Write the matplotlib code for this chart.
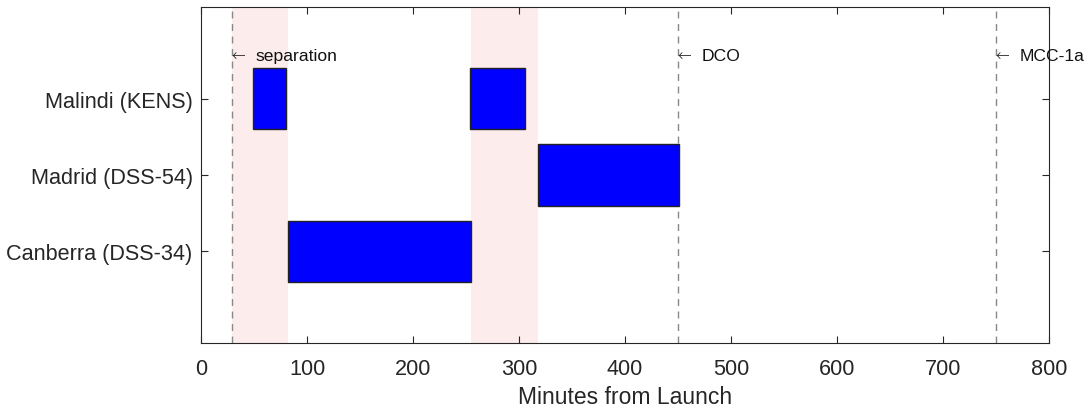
import matplotlib
matplotlib.use('Agg')
import matplotlib.pyplot as plt

# Stasiun dan jendela kontak (menit dari peluncuran)
stations = ['Canberra (DSS-34)', 'Madrid (DSS-54)', 'Malindi (KENS)']
contact_start = [[82], [318], [49, 254]]
contact_end = [[255], [451], [80, 306]]

# Periode gap (latar merah muda)
gap_start = [29, 255]
gap_end = [82, 318]

# Event penting
events = ['separation', 'DCO', 'MCC-1a']
event_time = [29, 450, 750]

plt.rcParams['font.family'] = ['Liberation Sans', 'DejaVu Sans']

fig = plt.figure(figsize=(10.89, 4.10), dpi=100)
ax = fig.add_axes([0.1846, 0.161, 0.7787, 0.8195])

for s, e in zip(gap_start, gap_end):
    ax.axvspan(s, e, color='#fdecec', lw=0, zorder=0)

for t in event_time:
    ax.axvline(t, color='#888888', ls=(0, (5, 4)), lw=1, zorder=1)

for i, name in enumerate(stations):
    for s, e in zip(contact_start[i], contact_end[i]):
        ax.barh(i + 1, e - s, left=s, height=0.8, color='#0000ff',
                edgecolor='#222222', lw=1, zorder=2)

# label event: panah tipis + nama
for name, t in zip(events, event_time):
    ax.annotate('\u2190', (t, 3.57), xytext=(-0.5, 0), textcoords='offset points',
                fontsize=12, va='center', ha='left', family=['DejaVu Sans'],
                fontweight='light', color='#222222', zorder=3)
    ax.annotate(name, (t, 3.57), xytext=(17.3, 0), textcoords='offset points',
                fontsize=12.6, va='center', ha='left', color='#111111', zorder=3)

ax.set_xlim(0, 800)
ax.set_ylim(-0.2, 4.2)
ax.set_yticks([1, 2, 3])
ax.set_yticklabels(stations)
ax.set_xticks(range(0, 801, 100))
ax.tick_params(direction='in', top=True, right=True, labelsize=15.6,
               colors='#262626', length=5)
ax.tick_params(axis='x', pad=11)
ax.tick_params(axis='y', pad=6)
ax.set_xlabel('Minutes from Launch', fontsize=16.5, color='#262626', labelpad=4)
for sp in ax.spines.values():
    sp.set_color('#262626')

fig.savefig('out.png', dpi=100)
